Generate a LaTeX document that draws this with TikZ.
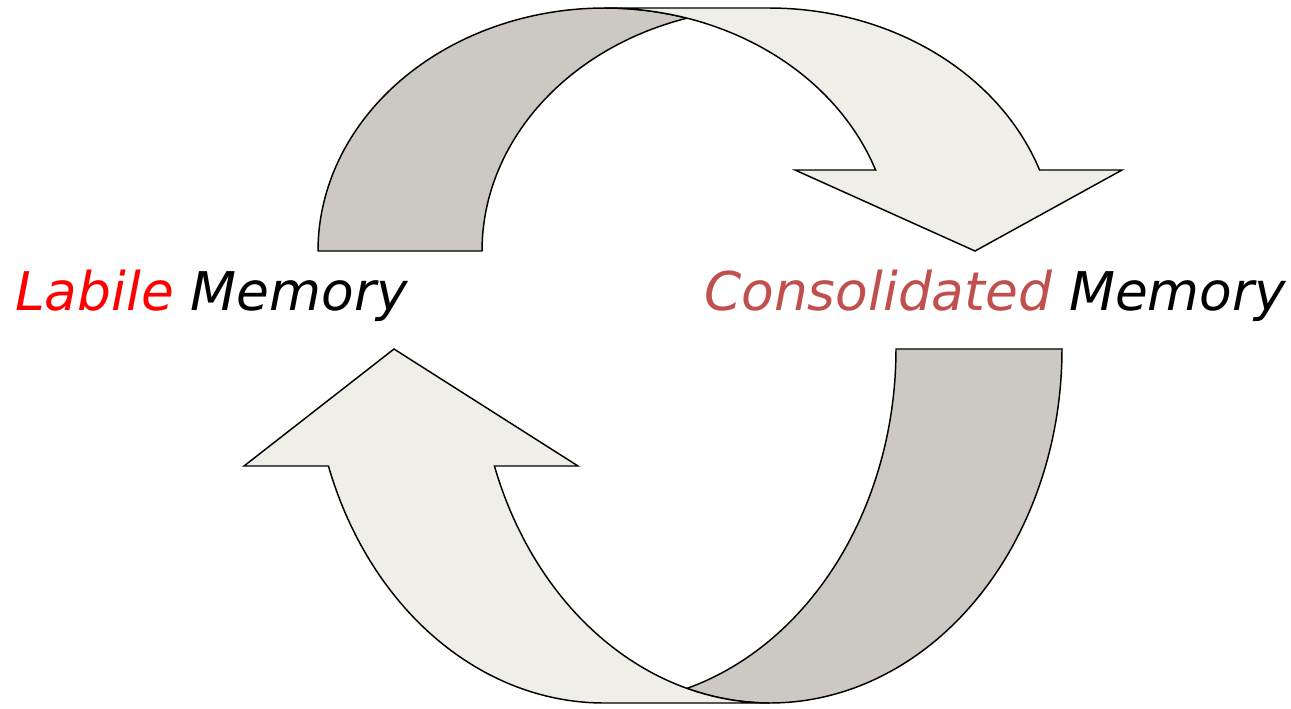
\documentclass[tikz,border=0pt]{standalone}
\usepackage{fontspec}
\setmainfont{DejaVu Sans}
\definecolor{backband}{RGB}{204,201,194}
\definecolor{frontband}{RGB}{239,239,231}
\definecolor{labred}{RGB}{255,0,0}
\definecolor{consred}{RGB}{192,80,77}
\tikzset{
  band/.style={draw=black, line width=1.1pt, line join=miter},
  backpart/.style={band, fill=backband},
  frontpart/.style={band, fill=frontband},
  caption/.style={inner sep=0pt, anchor=base west,
    font=\fontsize{40pt}{48pt}\selectfont\itshape}
}
\begin{document}
\begin{tikzpicture}[x=0.75pt, y=-0.75pt]
\useasboundingbox (0,0) rectangle (1291,708);

% upper arrow: two equal ellipses, centres (605,251) and (769,251)
\path[backpart]
  plot[domain=180:73.40, samples=90, variable=\t]
    ({605+287*cos(\t)},{251-243*sin(\t)})
  -- plot[domain=106.60:180, samples=60, variable=\t]
    ({769+287*cos(\t)},{251-243*sin(\t)})
  -- cycle;
\path[frontpart]
  (605,8) -- (769,8)
  -- plot[domain=90:19.47, samples=70, variable=\t]
    ({769+287*cos(\t)},{251-243*sin(\t)})
  -- (1122,170) -- (975,251) -- (795,170)
  -- plot[domain=19.47:90, samples=70, variable=\t]
    ({605+287*cos(\t)},{251-243*sin(\t)})
  -- cycle;

% lower arrow: two equal ellipses, centres (770,349) and (604,349)
\path[backpart]
  plot[domain=0:106.51, samples=90, variable=\t]
    ({770+292*cos(\t)},{349+354*sin(\t)})
  -- plot[domain=73.49:0, samples=60, variable=\t]
    ({604+292*cos(\t)},{349+354*sin(\t)})
  -- cycle;
\path[frontpart]
  plot[domain=160.70:90, samples=70, variable=\t]
    ({770+292*cos(\t)},{349+354*sin(\t)})
  -- (604,703)
  -- plot[domain=90:160.70, samples=70, variable=\t]
    ({604+292*cos(\t)},{349+354*sin(\t)})
  -- (244,466) -- (394,349) -- (578,466)
  -- cycle;

% captions
\node[caption] (labile) at (15,310) {\textcolor{labred}{Labile} Memory};
\node[caption] (consolidated) at (704,310) {\textcolor{consred}{Consolidated} Memory};
\end{tikzpicture}
\end{document}
